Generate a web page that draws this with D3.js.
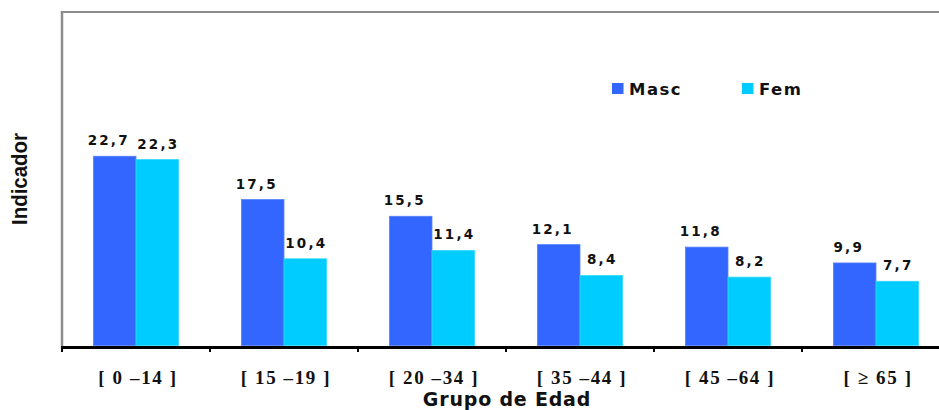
<!DOCTYPE html>
<html>
<head>
<meta charset="utf-8">
<script src="https://cdn.jsdelivr.net/npm/d3@7"></script>
<style>
  body { margin: 0; background: #fff; }
  svg { display: block; }
</style>
</head>
<body>
<div id="chart"></div>
<script>
// data
var groups = ["[ 0 \u201314 ]", "[ 15 \u201319 ]", "[ 20 \u201334 ]", "[ 35 \u201344 ]", "[ 45 \u201364 ]", "[ \u2265 65 ]"];
var series = ["Masc", "Fem"];
var masc = [22.7, 17.5, 15.5, 12.1, 11.8, 9.9];
var fem = [22.3, 10.4, 11.4, 8.4, 8.2, 7.7];
var colors = ["#3366ff", "#00ccff"];

var width = 939, height = 410;
var plotLeft = 62, plotTop = 12, base = 345.5;

var svg = d3.select("#chart")
    .append("svg")
    .attr("width", width)
    .attr("height", height);

// scales (plot runs past the right edge of the picture)
var x0 = d3.scaleBand()
    .domain(groups)
    .range([plotLeft, plotLeft + 6 * 148])
    .paddingInner(0.425)
    .paddingOuter(0.2125);

var x1 = d3.scaleBand()
    .domain(series)
    .range([0, x0.bandwidth()]);

var y = d3.scaleLinear()
    .domain([0, 40])
    .range([base, plotTop]);

var rows = groups.map(function (g, i) {
    return {group: g, values: [masc[i], fem[i]]};
});

// frame: grey top and left
svg.append("line")
    .attr("x1", plotLeft).attr("x2", width)
    .attr("y1", plotTop).attr("y2", plotTop)
    .attr("stroke", "#8c8c8c").attr("stroke-width", 2);

svg.append("line")
    .attr("x1", plotLeft).attr("x2", plotLeft)
    .attr("y1", plotTop - 1).attr("y2", base + 2)
    .attr("stroke", "#8c8c8c").attr("stroke-width", 2.5);

// bars
var g = svg.selectAll(".grp")
    .data(rows)
    .enter()
    .append("g")
    .attr("class", "grp")
    .attr("transform", function (d) { return "translate(" + x0(d.group) + ",0)"; });

function pairs(d) {
    return d.values.map(function (v, k) { return {s: series[k], v: v, k: k}; });
}

g.selectAll("rect")
    .data(pairs)
    .enter()
    .append("rect")
    .attr("x", function (d) { return x1(d.s); })
    .attr("y", function (d) { return y(d.v); })
    .attr("width", x1.bandwidth())
    .attr("height", function (d) { return y(0) - y(d.v); })
    .attr("fill", function (d) { return colors[d.k]; })
    .attr("stroke", function (d) { return d.k === 0 ? "#5580ff" : "#33d6ff"; })
    .attr("stroke-width", 0.8);

// value labels
g.selectAll(".val")
    .data(pairs)
    .enter()
    .append("text")
    .attr("class", "val")
    .attr("x", function (d) { return x1(d.s) + x1.bandwidth() / 2 + (d.k === 0 ? -6 : 1); })
    .attr("y", function (d) { return y(d.v) - 11; })
    .attr("text-anchor", "middle")
    .attr("font-family", "DejaVu Sans")
    .attr("font-weight", "bold")
    .attr("font-size", "13.5px")
    .attr("letter-spacing", "2.2px")
    .attr("fill", "#111")
    .text(function (d) { return d3.format(".1f")(d.v).replace(".", ","); });

// x axis
svg.append("line")
    .attr("x1", plotLeft - 1).attr("x2", width)
    .attr("y1", 347.5).attr("y2", 347.5)
    .attr("stroke", "#000").attr("stroke-width", 3);

svg.selectAll(".tk")
    .data(d3.range(groups.length + 1))
    .enter()
    .append("line")
    .attr("class", "tk")
    .attr("x1", function (i) { return plotLeft + i * x0.step(); })
    .attr("x2", function (i) { return plotLeft + i * x0.step(); })
    .attr("y1", 347).attr("y2", 352)
    .attr("stroke", "#000").attr("stroke-width", 2);

svg.selectAll(".cat")
    .data(groups)
    .enter()
    .append("text")
    .attr("class", "cat")
    .attr("x", function (d) { return x0(d) + x0.bandwidth() / 2 + 2; })
    .attr("y", 384)
    .attr("text-anchor", "middle")
    .attr("font-family", "Liberation Serif")
    .attr("font-weight", "bold")
    .attr("font-size", "19px")
    .attr("letter-spacing", "1.6px")
    .attr("fill", "#111")
    .text(function (d) { return d; });

// axis titles
svg.append("text")
    .attr("x", 507)
    .attr("y", 406)
    .attr("text-anchor", "middle")
    .attr("font-family", "DejaVu Sans")
    .attr("font-weight", "bold")
    .attr("font-size", "19px")
    .attr("letter-spacing", "0.8px")
    .attr("fill", "#111")
    .text("Grupo de Edad");

svg.append("text")
    .attr("transform", "translate(27,179) rotate(-90)")
    .attr("text-anchor", "middle")
    .attr("font-family", "Liberation Sans")
    .attr("font-weight", "bold")
    .attr("font-size", "22px")
    .attr("textLength", 92)
    .attr("lengthAdjust", "spacingAndGlyphs")
    .attr("fill", "#111")
    .text("Indicador");

// legend
var legX = [612, 742];
var leg = svg.selectAll(".leg")
    .data(series)
    .enter()
    .append("g")
    .attr("class", "leg")
    .attr("transform", function (d, i) { return "translate(" + legX[i] + ",83)"; });

leg.append("rect")
    .attr("width", 11.5)
    .attr("height", 11)
    .attr("fill", function (d, i) { return colors[i]; });

leg.append("text")
    .attr("x", 17)
    .attr("y", 12)
    .attr("font-family", "DejaVu Sans")
    .attr("font-weight", "bold")
    .attr("font-size", "16.5px")
    .attr("letter-spacing", "1.5px")
    .attr("fill", "#111")
    .text(function (d) { return d; });
</script>
</body>
</html>
